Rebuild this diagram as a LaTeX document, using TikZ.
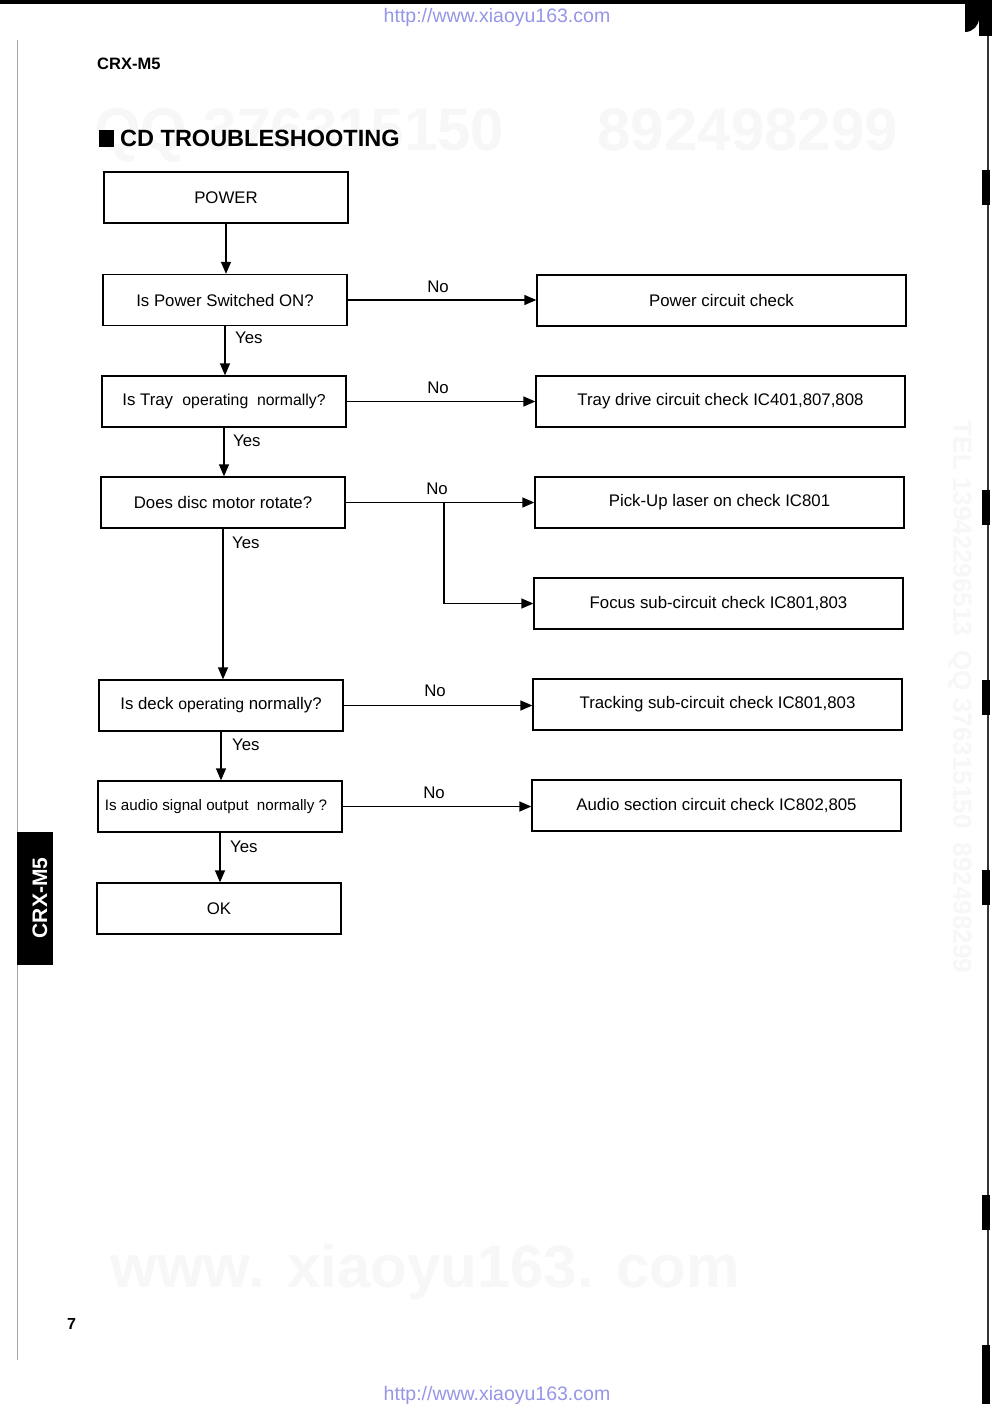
\documentclass[tikz,border=0pt]{standalone}
\usepackage{fontspec}
\setmainfont{Liberation Sans}
\usetikzlibrary{arrows.meta}
\definecolor{urlblue}{RGB}{150,150,232}
\begin{document}
\begin{tikzpicture}[x=1pt,y=-1pt,
  box/.style={draw,line width=1.3pt,minimum width=244pt,minimum height=51pt,inner sep=0pt,font=\fontsize{16.8}{19}\selectfont},
  rbox/.style={draw,line width=1.3pt,minimum width=369pt,minimum height=51pt,inner sep=0pt,font=\fontsize{16.8}{19}\selectfont},
  conn/.style={line width=1.3pt,-{Triangle[length=12pt,width=10pt]}},
  lbl/.style={font=\fontsize{16.8}{19}\selectfont,inner sep=0pt},
  wm/.style={text=black!3,font=\bfseries\fontsize{60}{60}\selectfont,inner sep=0pt}]
\useasboundingbox (0,0) rectangle (992,1404);
\fill[white] (0,0) rectangle (992,1404);
% faint watermarks
\node[wm] (wm1) at (496,135) {QQ 376315150\quad\ \ 892498299};
\node[wm] (wm2) at (425,1272) {www. xiaoyu163. com};
\node[wm,font=\bfseries\fontsize{26}{26}\selectfont,rotate=-90] (wm3) at (960,697) {TEL 13942296513\ \ QQ 376315150\ \ 892498299};
% page edges from the scan
\fill[black] (0,0) rectangle (992,4);
\fill[black] (975,0) -- (992,0) -- (992,36) -- (979,36) -- (979,18) arc[start angle=0,end angle=90,radius=14] -- (965,4) -- (975,4) -- cycle;
\draw[black!80,line width=1.8pt] (988,36) -- (988,1404);
\foreach \ya/\yb in {170/205,490/525,680/715,870/905,1195/1230,1345/1404}
  \fill[black] (982,\ya) rectangle (989.5,\yb);
\draw[black!35,line width=0.8pt] (17,40) -- (17,1360);
% header texts
\node[anchor=west,inner sep=0pt,font=\bfseries\fontsize{16.5}{18}\selectfont] (model) at (97,64) {CRX-M5};
\fill[black] (99,130) rectangle (114,147);
\node[anchor=west,inner sep=0pt,font=\bfseries\fontsize{23.5}{26}\selectfont] (title) at (120,138.5) {CD TROUBLESHOOTING};
\node[anchor=west,inner sep=0pt,font=\bfseries\fontsize{16}{18}\selectfont] (page) at (67,1324) {7};
\node[inner sep=0pt,text=urlblue,font=\fontsize{19.5}{22}\selectfont] (url1) at (497,17) {http://www.xiaoyu163.com};
\node[inner sep=0pt,text=urlblue,font=\fontsize{19.5}{22}\selectfont] (url2) at (497,1395) {http://www.xiaoyu163.com};
% side tab
\fill[black] (17,832) rectangle (53,965);
\node[rotate=90,text=white,inner sep=0pt,font=\bfseries\fontsize{21}{22}\selectfont] (tab) at (40,898) {CRX-M5};
% left column
\node[box] (power) at (226,197.5) {POWER};
\node[box] (sw) at (225,300) {Is Power Switched ON?};
\node[box] (tray) at (224,401.5) {Is Tray\ \ {\fontsize{15.8}{18}\selectfont operating\ \ normally?}};
\node[box] (disc) at (223,502.5) {Does disc motor rotate?};
\node[box] (deck) at (221,705.5) {Is deck {\fontsize{15.8}{18}\selectfont operating} normally?};
\node[box,font=\fontsize{15.2}{18}\selectfont] (audio) at (220,806.5) {\hspace*{-8pt}Is audio signal output\ \ normally ?};
\node[box] (ok) at (219,908.5) {OK};
% right column
\node[rbox] (pc) at (721.5,300.5) {Power circuit check};
\node[rbox] (td) at (720.5,401.5) {Tray drive circuit check IC401,807,808};
\node[rbox] (pu) at (719.5,502.5) {Pick-Up laser on check IC801};
\node[rbox] (fc) at (718.5,603.5) {Focus sub-circuit check IC801,803};
\node[rbox] (tc) at (717.5,704.5) {Tracking sub-circuit check IC801,803};
\node[rbox] (as) at (716.5,805.5) {Audio section circuit check IC802,805};
% vertical connectors
\draw[conn] (power.south) -- (power.south |- sw.north);
\draw[conn] (sw.south) -- (sw.south |- tray.north);
\draw[conn] (tray.south) -- (tray.south |- disc.north);
\draw[conn] (disc.south) -- (disc.south |- deck.north);
\draw[conn] (deck.south) -- (deck.south |- audio.north);
\draw[conn] (audio.south) -- (audio.south |- ok.north);
% horizontal connectors
\draw[conn] (sw.east) -- (sw.east -| pc.west);
\draw[conn] (tray.east) -- (tray.east -| td.west);
\draw[conn] (disc.east) -- (disc.east -| pu.west);
\coordinate (br) at (444,502.5);
\draw[conn] (br) |- (fc.west);
\draw[conn] (deck.east) -- (deck.east -| tc.west);
\draw[conn] (audio.east) -- (audio.east -| as.west);
% labels
\node[lbl,anchor=west] (y1) at (235,338) {Yes};
\node[lbl,anchor=west] (y2) at (233,441) {Yes};
\node[lbl,anchor=west] (y3) at (232,543) {Yes};
\node[lbl,anchor=west] (y4) at (232,745) {Yes};
\node[lbl,anchor=west] (y5) at (230,847) {Yes};
\node[lbl] (n1) at (438,287) {No};
\node[lbl] (n2) at (438,388) {No};
\node[lbl] (n3) at (437,489) {No};
\node[lbl] (n4) at (435,691) {No};
\node[lbl] (n5) at (434,793) {No};
\end{tikzpicture}
\end{document}
